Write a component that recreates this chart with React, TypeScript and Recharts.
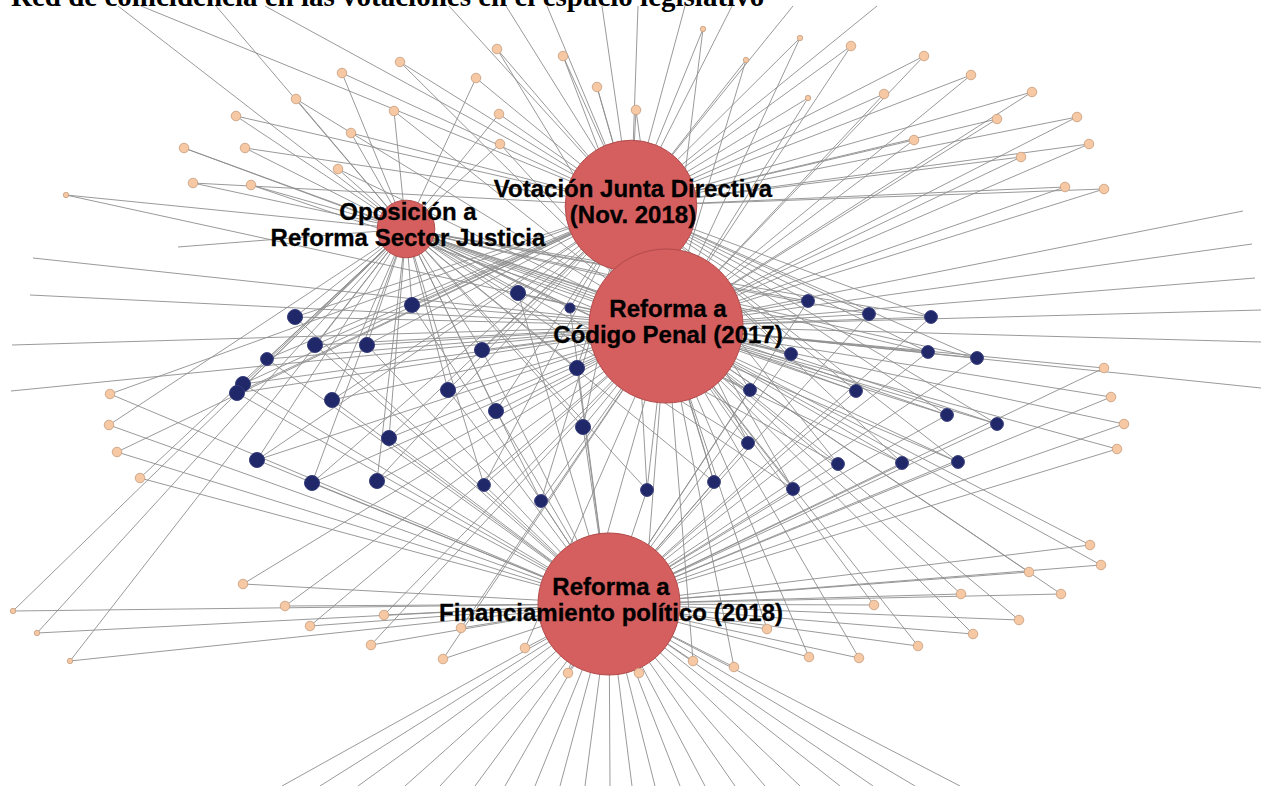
import { Scatter, ScatterChart, XAxis, YAxis, ZAxis } from 'recharts'

const W = 1261
const H = 786

const TITLE = 'Red de coincidencia en las votaciones en el espacio legislativo'

// the four votes (big red hubs)
const hubLabels = [
  ['Votación Junta Directiva', '(Nov. 2018)'],
  ['Oposición a', 'Reforma Sector Justicia'],
  ['Reforma a', 'Código Penal (2017)'],
  ['Reforma a', 'Financiamiento político (2018)'],
]
const hubX = [631, 406, 666, 609]
const hubY = [206, 229, 326, 604]
const hubWeight = [73, 14, 100, 85]

// deputies present in all four votes: [x, y, weight]
const blueNodes = [
  [295, 317, 3], [412, 305, 3], [518, 293, 3], [570, 308, 1], [267, 359, 2],
  [315, 345, 3], [367, 345, 3], [482, 350, 3], [577, 368, 3], [243, 384, 3],
  [237, 393, 3], [332, 400, 3], [448, 390, 3], [496, 411, 3], [389, 438, 3],
  [583, 427, 3], [257, 460, 3], [312, 483, 3], [377, 481, 3], [484, 485, 2],
  [541, 501, 2], [647, 490, 2], [714, 482, 2], [793, 489, 2], [808, 301, 2],
  [869, 314, 2], [931, 317, 2], [791, 354, 2], [928, 352, 2], [977, 358, 2],
  [750, 390, 2], [856, 391, 2], [947, 415, 2], [997, 424, 2], [748, 443, 2],
  [838, 464, 2], [902, 463, 2], [958, 462, 2],
]

// deputies in two votes: [x, y, weight, hubA, hubB]
const peachNodes = [
  [400, 62, 2, 0, 2], [342, 73, 2, 1, 0], [296, 99, 2, 1, 2], [236, 116, 2, 1, 0],
  [394, 111, 2, 1, 2], [351, 133, 2, 1, 0], [184, 148, 2, 1, 2], [245, 148, 2, 1, 0],
  [338, 169, 2, 1, 2], [193, 183, 2, 1, 0], [251, 185, 2, 1, 2], [66, 195, 1, 1, 2],
  [497, 49, 2, 0, 2], [476, 78, 2, 1, 0], [563, 56, 2, 0, 2], [597, 87, 2, 0, 2],
  [499, 114, 2, 1, 0], [500, 144, 2, 1, 2], [636, 110, 2, 0, 2], [703, 29, 1, 0, 2],
  [746, 60, 1, 0, 2], [800, 38, 1, 0, 2], [808, 98, 1, 0, 2], [851, 46, 2, 0, 2],
  [924, 56, 2, 0, 2], [884, 94, 2, 0, 2], [971, 75, 2, 0, 2], [1032, 92, 2, 0, 2],
  [997, 119, 2, 0, 2], [914, 140, 2, 0, 2], [1077, 117, 2, 0, 2], [1089, 144, 2, 0, 2],
  [1021, 157, 2, 0, 2], [1065, 187, 2, 0, 2], [1104, 189, 2, 0, 2],
  [1104, 368, 2, 2, 3], [1111, 397, 2, 2, 3], [1124, 424, 2, 2, 3], [1117, 449, 2, 2, 3],
  [110, 394, 2, 0, 3], [109, 425, 2, 1, 3], [117, 452, 2, 0, 3], [140, 478, 2, 1, 3],
  [13, 611, 1, 1, 3], [37, 633, 1, 1, 3], [70, 661, 1, 1, 3],
  [243, 584, 2, 2, 3], [285, 606, 2, 2, 3], [310, 626, 2, 2, 3], [384, 615, 2, 2, 3],
  [371, 645, 2, 2, 3], [461, 628, 2, 2, 3], [443, 659, 2, 2, 3], [525, 648, 2, 2, 3],
  [568, 673, 2, 2, 3], [639, 673, 2, 2, 3], [693, 661, 2, 2, 3], [734, 667, 2, 2, 3],
  [767, 629, 2, 2, 3], [809, 657, 2, 2, 3], [859, 658, 2, 2, 3], [918, 646, 2, 2, 3],
  [973, 634, 2, 2, 3], [874, 605, 2, 2, 3], [1019, 620, 2, 2, 3], [961, 594, 2, 2, 3],
  [1061, 594, 2, 2, 3], [1029, 572, 2, 2, 3], [1090, 545, 2, 2, 3], [1101, 565, 2, 2, 3],
]

// links that leave the frame: [x, y, hub]
const strayEnds = [
  [118, 6, 1], [141, 6, 0], [216, 6, 1], [265, 6, 0], [449, 6, 0], [506, 6, 0],
  [547, 6, 0], [602, 6, 0], [638, 6, 0], [685, 6, 0], [732, 6, 0], [793, 6, 0],
  [877, 6, 0],
  [33, 258, 2], [30, 295, 2], [12, 345, 2], [11, 391, 2], [178, 247, 1],
  [1243, 211, 2], [1252, 244, 2], [1255, 278, 2], [1261, 310, 2], [1261, 342, 2],
  [1261, 388, 2],
  [282, 786, 3], [320, 786, 3], [358, 786, 3], [405, 786, 3], [440, 786, 3],
  [475, 786, 3], [505, 786, 3], [535, 786, 3], [560, 786, 3], [585, 786, 3],
  [610, 786, 3], [632, 786, 3], [655, 786, 3], [680, 786, 3], [705, 786, 3],
  [735, 786, 3], [765, 786, 3], [800, 786, 3], [840, 786, 3], [873, 786, 3],
  [915, 786, 3], [960, 786, 3],
]

const hubData = hubX.map((x, i) => ({ x, y: hubY[i], w: hubWeight[i], lines: hubLabels[i] }))
const blueData = blueNodes.map(([x, y, w]) => ({ x, y, w }))
const peachData = peachNodes.map(([x, y, w]) => ({ x, y, w }))

// edge list flattened as point pairs
const edgeData: { x: number; y: number }[] = []
const link = (x: number, y: number, h: number) => {
  edgeData.push({ x, y }, { x: hubX[h], y: hubY[h] })
}
strayEnds.forEach(([x, y, h]) => link(x, y, h))
peachNodes.forEach(([x, y, , a, b]) => {
  link(x, y, a)
  link(x, y, b)
})
blueNodes.forEach(([x, y]) => hubX.forEach((_, h) => link(x, y, h)))

const renderEdges = (props: any) => {
  const pts = props.points || []
  let d = ''
  for (let i = 0; i + 1 < pts.length; i += 2) {
    d += `M${pts[i].x},${pts[i].y}L${pts[i + 1].x},${pts[i + 1].y}`
  }
  return <path d={d} fill="none" stroke="#8e8e8e" strokeWidth={1} strokeOpacity={0.9} />
}

const HubLabel = (p: any) => {
  const x = p.cx + 2
  return (
    <text
      x={x}
      y={p.cy - 9}
      textAnchor="middle"
      fontFamily="'Liberation Sans', Arial, sans-serif"
      fontWeight={700}
      fontSize={24}
      fill="#000"
      stroke="#000"
      strokeWidth={0.3}
    >
      <tspan x={x}>{p.payload.lines[0]}</tspan>
      <tspan x={x} dy={26}>
        {p.payload.lines[1]}
      </tspan>
    </text>
  )
}

export default function App() {
  return (
    <div style={{ position: 'absolute', left: 0, top: 0, width: W, height: H, background: '#fff' }}>
      <ScatterChart width={W} height={H} margin={{ top: 0, right: 0, bottom: 0, left: 0 }}>
        <XAxis type="number" dataKey="x" domain={[0, W]} hide allowDataOverflow />
        <YAxis type="number" dataKey="y" domain={[0, H]} reversed hide allowDataOverflow />
        <ZAxis zAxisId="hub" type="number" dataKey="w" domain={[0, 100]} range={[0, 18627]} />
        <ZAxis zAxisId="blue" type="number" dataKey="w" domain={[1, 3]} range={[80, 177]} />
        <ZAxis zAxisId="peach" type="number" dataKey="w" domain={[1, 2]} range={[23, 72]} />
        <Scatter
          data={edgeData}
          line={renderEdges}
          shape={() => <g />}
          isAnimationActive={false}
        />
        <Scatter
          data={hubData}
          zAxisId="hub"
          shape="circle"
          fill="#D55E5E"
          stroke="#B24B4B"
          strokeWidth={1}
          isAnimationActive={false}
        />
        <Scatter
          data={blueData}
          zAxisId="blue"
          shape="circle"
          fill="#20286A"
          stroke="#353C7A"
          strokeWidth={1}
          isAnimationActive={false}
        />
        <Scatter
          data={peachData}
          zAxisId="peach"
          shape="circle"
          fill="#F6C8A3"
          stroke="#C59C7C"
          strokeWidth={0.8}
          isAnimationActive={false}
        />
        <Scatter data={hubData} zAxisId="hub" shape={HubLabel} isAnimationActive={false} />
      </ScatterChart>
      <svg
        width={W}
        height={40}
        style={{ position: 'absolute', left: 0, top: 0, pointerEvents: 'none' }}
      >
        <text
          x={11}
          y={6}
          fontFamily="'Liberation Serif', 'Times New Roman', serif"
          fontWeight={700}
          fontSize={29}
          fill="#000"
        >
          {TITLE}
        </text>
      </svg>
    </div>
  )
}
